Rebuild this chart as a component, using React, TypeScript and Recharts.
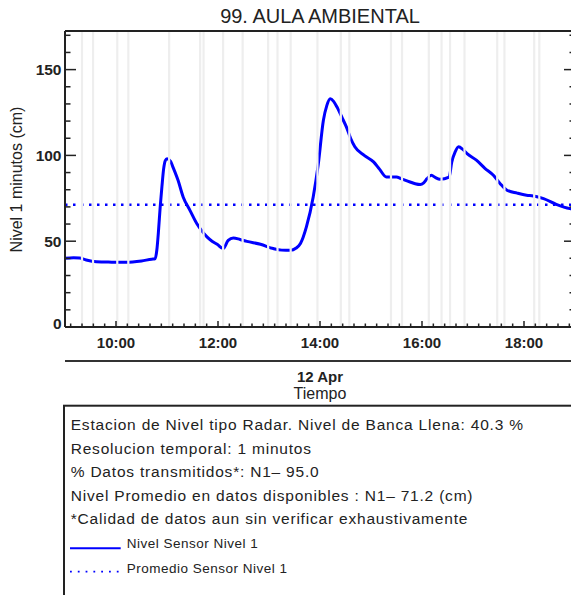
import React from 'react';
import { LineChart, Line, XAxis, YAxis, ReferenceLine } from 'recharts';

// minutes since midnight, 12 Apr
const TIMES = [
  540, 550, 557, 565, 577, 595, 612, 630, 642, 646, 648, 650, 652, 654, 656, 658, 660,
  664, 667, 673, 679, 687, 695, 701, 707, 713, 719, 726, 732, 738, 746, 754, 770, 785,
  795, 805, 812, 817, 824, 832, 838, 844, 848, 852, 856, 860, 866, 871, 876, 881, 892,
  903, 910, 918, 925, 930, 935, 946, 952, 958, 962, 966, 971, 976, 981, 992, 995, 999,
  1003, 1008, 1013, 1024, 1034, 1044, 1052, 1060, 1072, 1083, 1091, 1103, 1118, 1134, 1140,
];
const LEVELS = [
  40, 40.3, 40.2, 39, 38, 37.8, 37.7, 38.5, 39.5, 39.7, 44.7, 56, 70, 81.6, 92, 97, 98,
  96.7, 93.2, 85.5, 75.8, 68, 60.3, 56, 52.5, 50, 48.2, 45.7, 50.5, 51.9, 51, 49.9, 48.2, 45.7,
  44.8, 44.7, 46, 48.6, 58.3, 75.8, 95, 120.5, 129, 133, 131.5, 128.2, 122, 116.6, 110, 105, 100,
  96.2, 92, 87.4, 87.4, 87.4, 86.5, 84.5, 83.5, 83, 84, 86.5, 88.4, 87, 86.1, 87.4, 96, 102,
  105, 103.5, 101, 97.2, 92.5, 88.4, 83.5, 79.7, 78, 76.8, 76.4, 74.8, 71.5, 69, 68.5,
];
// times with missing data (grey bands)
const GAP_TIMES = [
  560, 573, 601.5, 614.5, 662.5, 699, 703, 726, 749, 779, 790, 805.5, 837, 864.5, 874.5,
  923.5, 936.5, 968, 983, 993, 1010, 1048.5, 1057, 1092, 1098,
];
const AVG = 71.2;
const BANCA = '40.3 %';
const PCT_DATOS = '95.0';

const MAJOR_TIMES = [600, 720, 840, 960, 1080];
const MAJOR_LABELS = ['10:00', '12:00', '14:00', '16:00', '18:00'];
const X_DOMAIN = [540, 1140];
const X_STEP = 40 / 3;
const X_TICKS = Array.from({ length: 46 }, (_, k) => 600 + (k - 4) * X_STEP);
const Y_TICKS = [0, 10, 20, 30, 40, 50, 60, 70, 80, 90, 100, 110, 120, 130, 140, 150, 160, 170];
const Y_LABELS = [0, 50, 100, 150];

const FONT = '"Liberation Sans", Arial, Helvetica, sans-serif';
const INK = '#222';
const BLUE = '#0000ff';

const data = TIMES.map((t, i) => ({ t, level: LEVELS[i] }));

const majorIndex = (v: number) => MAJOR_TIMES.findIndex((m) => Math.abs(m - v) < 0.01);

const BottomTick = ({ x, y, payload }: any) => {
  const i = majorIndex(payload.value);
  return (
    <g>
      <line x1={x} x2={x} y1={y} y2={y - (i >= 0 ? 6 : 3.5)} stroke={INK} strokeWidth={1.5} />
      {i >= 0 && (
        <text x={x} y={y + 21} textAnchor="middle" fontFamily={FONT} fontSize={15} fontWeight="bold" fill={INK}>
          {MAJOR_LABELS[i]}
        </text>
      )}
    </g>
  );
};

const TopTick = ({ x, y, payload }: any) => {
  const i = majorIndex(payload.value);
  return <line x1={x} x2={x} y1={y} y2={y + (i >= 0 ? 6 : 3.5)} stroke={INK} strokeWidth={1.5} />;
};

const LeftTick = ({ x, y, payload }: any) => {
  const major = Y_LABELS.includes(payload.value);
  return (
    <g>
      <line x1={x} x2={x + (major ? 11 : 5.5)} y1={y} y2={y} stroke={INK} strokeWidth={1.5} />
      {major && (
        <text
          x={x - 3.5}
          y={payload.value === 0 ? y - 3.4 : y}
          dy="0.36em"
          textAnchor="end"
          fontFamily={FONT}
          fontSize={15.5}
          fontWeight="bold"
          fill={INK}
        >
          {payload.value}
        </text>
      )}
    </g>
  );
};

const RightTick = ({ x, y, payload }: any) => {
  const major = Y_LABELS.includes(payload.value);
  return <line x1={x} x2={x - (major ? 11 : 5.5)} y1={y} y2={y} stroke={INK} strokeWidth={1.5} />;
};

const infoLines = [
  `Estacion de Nivel tipo Radar. Nivel de Banca Llena: ${BANCA}`,
  'Resolucion temporal: 1 minutos',
  `% Datos transmitidos*: N1– ${PCT_DATOS}`,
  `Nivel Promedio en datos disponibles : N1– ${AVG} (cm)`,
  '*Calidad de datos aun sin verificar exhaustivamente',
];

export default function App() {
  return (
    <div style={{ position: 'absolute', left: 0, top: 0, width: 571, height: 595, overflow: 'hidden', background: '#fff' }}>
      <div style={{ position: 'absolute', left: 0, top: 0 }}>
        <LineChart width={576} height={400} data={data} margin={{ top: 0, right: 0, bottom: 0, left: 0 }}>
          <XAxis
            dataKey="t"
            type="number"
            domain={X_DOMAIN}
            ticks={X_TICKS}
            interval={0}
            allowDataOverflow
            height={73}
            tickSize={0}
            tickMargin={0}
            tickLine={false}
            axisLine={{ stroke: INK, strokeWidth: 2 }}
            tick={<BottomTick />}
          />
          <XAxis
            xAxisId="top"
            orientation="top"
            type="number"
            domain={X_DOMAIN}
            ticks={X_TICKS}
            interval={0}
            allowDataOverflow
            height={31}
            tickSize={0}
            tickMargin={0}
            tickLine={false}
            axisLine={{ stroke: INK, strokeWidth: 2 }}
            tick={<TopTick />}
          />
          <YAxis
            type="number"
            domain={[0, 172.5]}
            ticks={Y_TICKS}
            interval={0}
            allowDataOverflow
            width={65}
            tickSize={0}
            tickMargin={0}
            tickLine={false}
            axisLine={{ stroke: INK, strokeWidth: 2 }}
            tick={<LeftTick />}
          />
          <YAxis
            yAxisId="r"
            orientation="right"
            type="number"
            domain={[0, 172.5]}
            ticks={Y_TICKS}
            interval={0}
            allowDataOverflow
            width={1}
            tickSize={0}
            tickMargin={0}
            tickLine={false}
            axisLine={{ stroke: INK, strokeWidth: 2 }}
            tick={<RightTick />}
          />
          <ReferenceLine y={AVG} stroke={BLUE} strokeWidth={2.5} strokeDasharray="2.5 5.5" />
          <Line
            type="monotone"
            dataKey="level"
            stroke={BLUE}
            strokeWidth={3}
            dot={false}
            isAnimationActive={false}
          />
          {GAP_TIMES.map((g) => (
            <ReferenceLine key={g} x={g} stroke="#eeeeee" strokeWidth={2.2} ifOverflow="hidden" />
          ))}
        </LineChart>
      </div>
      <svg width={571} height={595} style={{ position: 'absolute', left: 0, top: 0, pointerEvents: 'none' }}>
        <g fontFamily={FONT} fill={INK}>
          <text x={320} y={23.3} textAnchor="middle" fontSize={20}>
            99. AULA AMBIENTAL
          </text>
          <text x={16} y={179.5} textAnchor="middle" dy="0.36em" fontSize={16} transform="rotate(-90 16 179.5)">
            Nivel 1 minutos (cm)
          </text>
          <line x1={65} x2={580} y1={361} y2={361} stroke="#333" strokeWidth={2} />
          <text x={320} y={381.7} textAnchor="middle" fontSize={15} fontWeight="bold">
            12 Apr
          </text>
          <text x={320} y={398.5} textAnchor="middle" fontSize={16}>
            Tiempo
          </text>
          <rect x={64} y={405.7} width={600} height={300} fill="none" stroke={INK} strokeWidth={2} />
          {infoLines.map((s, i) => (
            <text key={i} x={70.7} y={430 + i * 23.6} fontSize={15.5} letterSpacing={0.8}>
              {s}
            </text>
          ))}
          <line x1={70} x2={120.7} y1={548.3} y2={548.3} stroke={BLUE} strokeWidth={2} />
          <text x={126.7} y={548.3} fontSize={13.5} letterSpacing={0.5}>
            Nivel Sensor Nivel 1
          </text>
          <line x1={70} x2={121} y1={571.7} y2={571.7} stroke={BLUE} strokeWidth={1.8} strokeDasharray="1.8 6" />
          <text x={126.7} y={572.7} fontSize={13.5} letterSpacing={0.5}>
            Promedio Sensor Nivel 1
          </text>
        </g>
      </svg>
    </div>
  );
}
